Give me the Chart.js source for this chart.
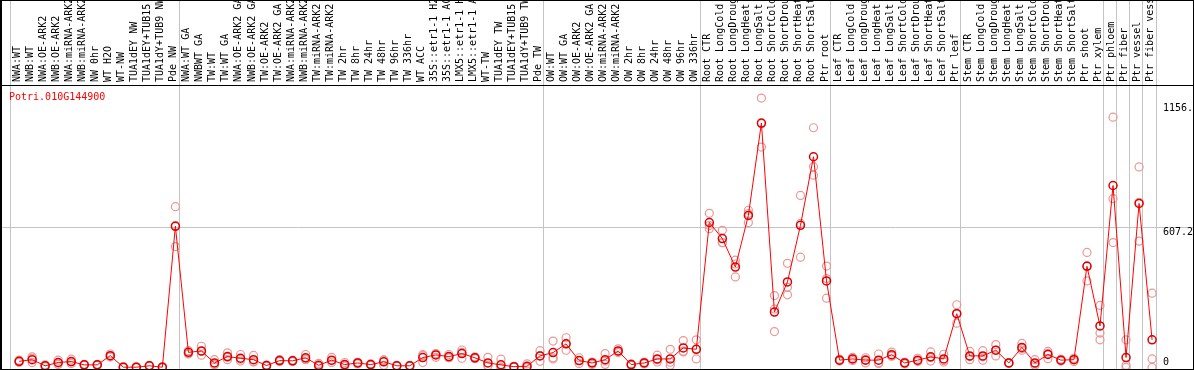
<!DOCTYPE html>
<html><head><meta charset="utf-8">
<script src="https://cdn.jsdelivr.net/npm/chart.js@4.4.0/dist/chart.umd.min.js"></script>
<style>
html,body{margin:0;padding:0;overflow:hidden;background:#fff;}
#wrap{position:relative;width:1194px;height:376px;}
</style></head><body>
<div id="wrap"><canvas id="c"></canvas></div>
<script>
const geneId = 'Potri.010G144900';
const categories = [
 'NWA:WT','NWB:WT','NWA:OE-ARK2','NWB:OE-ARK2','NWA:miRNA-ARK2','NWB:miRNA-ARK2','NW 0hr','WT H2O','WT-NW','TUA1dEY NW','TUA1dEY+TUB15 NW','TUA1dY+TUB9 NW','Pde NW',
 'NWA:WT GA','NWBWT GA','TW:WT','TW:WT GA','NWA:OE-ARK2 GA','NWB:OE-ARK2 GA','TW:OE-ARK2','TW:OE-ARK2 GA','NWA:miRNA-ARK2','NWB:miRNA-ARK2','TW:miRNA-ARK2','TW:miRNA-ARK2',
 'TW 2hr','TW 8hr','TW 24hr','TW 48hr','TW 96hr','TW 336hr','WT ACC','35S::etr1-1 H2O','35S::etr1-1 ACC','LMX5::etr1-1 H2O','LMX5::etr1-1 ACC','WT-TW','TUA1dEY TW','TUA1dEY+TUB15 TW','TUA1dY+TUB9 TW','Pde TW',
 'OW:WT','OW:WT GA','OW:OE-ARK2','OW:OE-ARK2 GA','OW:miRNA-ARK2','OW:miRNA-ARK2','OW 2hr','OW 8hr','OW 24hr','OW 48hr','OW 96hr','OW 336hr',
 'Root CTR','Root LongCold','Root LongDrought','Root LongHeat','Root LongSalt','Root ShortCold','Root ShortDrought','Root ShortHeat','Root ShortSalt','Ptr root',
 'Leaf CTR','Leaf LongCold','Leaf LongDrought','Leaf LongHeat','Leaf LongSalt','Leaf ShortCold','Leaf ShortDrought','Leaf ShortHeat','Leaf ShortSalt','Ptr leaf',
 'Stem CTR','Stem LongCold','Stem LongDrought','Stem LongHeat','Stem LongSalt','Stem ShortCold','Stem ShortDrought','Stem ShortHeat','Stem ShortSalt','Ptr shoot',
 'Ptr xylem','Ptr phloem','Ptr fiber','Ptr vessel','Ptr fiber vessel'
];
const groupStarts = [0, 13, 41, 53, 63, 73, 84, 85, 86, 87];
const means = [39,46,20,34,38,24,24,63,14,14,20,14,612,
 77,83,32,59,52,46,21,42,41,54,22,44,25,32,25,37,20,20,55,66,59,72,54,32,24,16,18,62,
 76,113,42,32,46,83,25,32,49,49,96,90,
 628,560,439,658,1050,248,376,616,907,380,
 44,49,44,44,67,32,44,58,49,241,
 62,62,86,32,98,32,68,44,46,442,
 189,785,55,709,130];
const rep1 = [34,58,16,44,48,22,22,70,12,12,18,12,695,
 84,103,46,75,68,64,18,46,44,68,30,56,34,36,28,44,22,18,68,70,68,87,58,56,48,14,28,84,
 125,139,54,36,72,92,22,36,65,90,127,130,
 667,595,397,680,1156,318,455,743,1030,443,
 48,56,54,70,78,28,52,79,69,279,
 81,84,110,30,115,46,81,48,52,501,
 276,1075,130,864,328];
const rep2 = [39,34,20,26,30,24,26,58,14,16,22,14,526,
 70,65,24,46,40,36,22,38,38,46,18,34,18,28,22,22,18,22,34,56,54,52,50,20,12,18,12,39,
 49,86,30,26,26,76,28,28,36,22,79,49,
 602,543,452,628,948,165,321,481,865,307,
 40,42,32,30,62,36,38,40,36,201,
 46,44,62,34,86,22,50,40,38,380,
 159,729,22,549,49];
const rep3 = [44,52,24,32,36,26,24,58,16,14,20,16,615,
 72,81,26,56,48,38,23,42,41,48,18,42,23,32,25,45,20,20,63,72,55,77,54,20,12,16,14,63,
 54,114,42,34,40,81,25,32,46,35,82,91,
 615,542,468,666,1047,261,353,624,829,390,
 44,49,46,32,61,32,42,55,42,243,
 59,58,86,32,93,28,73,44,48,445,
 130,543,13,714,13];
const yTickValues = [0, 607.2, 1156.5];
const yTickLabels = ['0', '607.2', '1156.'];
const yGridValues = [607.2];
const yMax = 1211.5;

const MONO = "'DejaVu Sans Mono', 'Liberation Mono', monospace";
const toPts = arr => arr.map((v, i) => ({x: i, y: v}));
const sepColor = ctx => (ctx.index === undefined || groupStarts.includes(ctx.index)) ? '#c4c4c4' : 'rgba(0,0,0,0)';

const repDatasets = [rep1, rep2, rep3].map((r, k) => ({
  label: 'rep' + (k + 1), data: toPts(r), xAxisID: 'xp', yAxisID: 'y',
  showLine: false, borderColor: '#ec9696', pointRadius: 4, pointBorderColor: '#ec9696',
  pointBorderWidth: 1.2, pointBackgroundColor: 'rgba(0,0,0,0)', clip: false
}));

const framePlugin = {
  id: 'frame',
  beforeDatasetsDraw(chart) {
    const {ctx} = chart; const ys = chart.scales.y;
    ctx.save(); ctx.strokeStyle = '#c4c4c4'; ctx.lineWidth = 1;
    yGridValues.forEach(v => {
      const py = Math.round(ys.getPixelForValue(v)) + 0.5;
      ctx.beginPath(); ctx.moveTo(0, py); ctx.lineTo(chart.width, py); ctx.stroke();
    });
    ctx.restore();
  },
  afterDraw(chart) {
    const {ctx, chartArea} = chart; const ys = chart.scales.y;
    ctx.save();
    ctx.fillStyle = '#000';
    ctx.fillRect(0, 0, 2, 370);
    ctx.fillRect(1193, 0, 1, 370);
    ctx.fillRect(0, 0, 1194, 1);
    ctx.fillRect(0, 369, 1194, 1);
    ctx.fillRect(0, Math.round(chartArea.top), 1194, 1);
    ctx.font = '10px ' + MONO;
    ctx.textAlign = 'left'; ctx.textBaseline = 'top';
    yTickValues.forEach((v, i) => {
      let py = ys.getPixelForValue(v);
      py = Math.min(Math.max(py, chartArea.top + 18), 357);
      ctx.fillText(yTickLabels[i], 1163, py);
    });
    ctx.fillStyle = '#ff0000'; ctx.textBaseline = 'middle';
    ctx.fillText(geneId, 9, 97);
    ctx.restore();
  }
};

new Chart(document.getElementById('c'), {
  type: 'line',
  data: {
    labels: categories,
    datasets: [{
      label: 'mean', data: toPts(means), xAxisID: 'xp', yAxisID: 'y',
      borderColor: '#ff0000', borderWidth: 1, tension: 0,
      pointRadius: 4, pointBorderColor: '#d80000', pointBorderWidth: 1.5,
      pointBackgroundColor: 'rgba(0,0,0,0)', clip: false
    }, ...repDatasets]
  },
  options: {
    responsive: true, maintainAspectRatio: false, animation: false,
    layout: {padding: {left: 10, right: 38, top: 0, bottom: 4}},
    plugins: {legend: {display: false}, tooltip: {enabled: false}},
    scales: {
      x: {
        type: 'category', position: 'top', offset: true,
        grid: {offset: true, color: sepColor, tickColor: sepColor, lineWidth: 1, drawTicks: true, tickLength: 85},
        border: {display: false},
        ticks: {autoSkip: false, minRotation: 90, maxRotation: 90, padding: -82, labelOffset: 13,
                color: '#000', font: {family: MONO, size: 10, lineHeight: 1.2}},
        afterFit: s => { s.height = 85; }
      },
      xp: {type: 'linear', display: false, min: -0.7, max: 87.3},
      y: {type: 'linear', display: false, min: 0, max: yMax}
    }
  },
  plugins: [framePlugin]
});
</script>
</body></html>
